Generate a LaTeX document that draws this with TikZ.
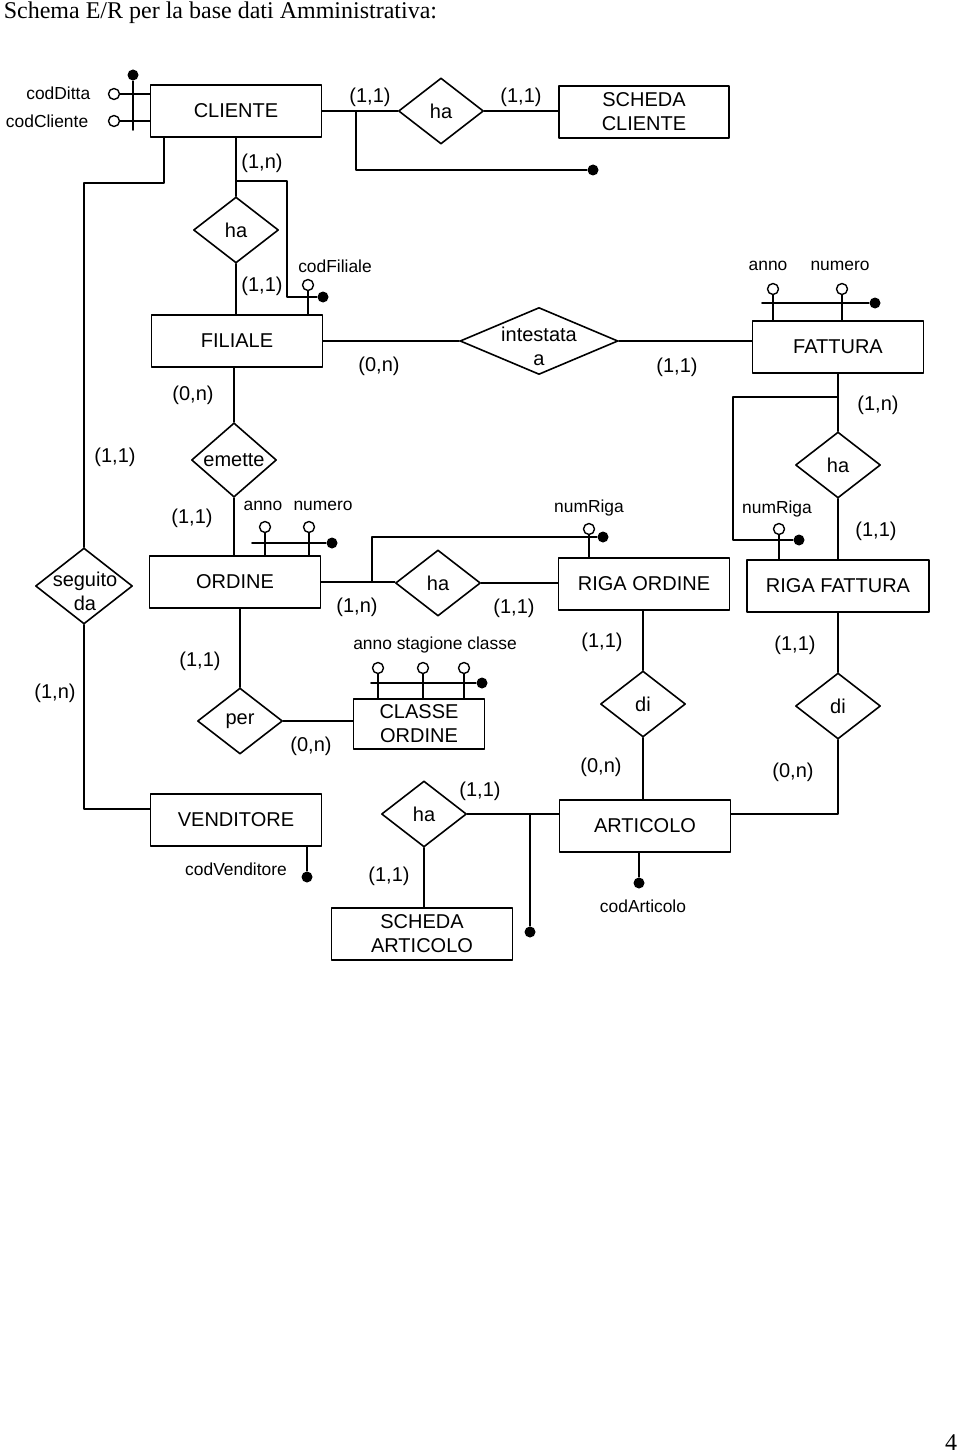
\documentclass[tikz,border=0pt]{standalone}
\usepackage{fontspec}
\setmainfont{Liberation Serif}
\setsansfont{Liberation Sans}
\usetikzlibrary{shapes.geometric,calc}
\tikzset{
  every picture/.style={line join=round, line cap=round, line width=0.8pt},
  entity/.style={draw, rectangle, minimum width=85.5pt, minimum height=26pt, inner sep=1pt, align=center, font=\sffamily\fontsize{10}{12}\selectfont},
  relation/.style={draw, diamond, minimum width=42.5pt, minimum height=33pt, inner sep=0pt, align=center, font=\sffamily\fontsize{10}{12}\selectfont},
  reltext/.style={inner sep=0pt, align=center, font=\sffamily\fontsize{10}{12}\selectfont},
  attrib/.style={draw, circle, fill=white, minimum size=5.5pt, inner sep=0pt, line width=0.7pt},
  keydot/.style={circle, fill=black, minimum size=5.5pt, inner sep=0pt},
  card/.style={inner sep=0pt, font=\sffamily\fontsize{10}{11}\selectfont},
  attlabel/.style={inner sep=0pt, font=\sffamily\fontsize{8.7}{10}\selectfont},
}

\begin{document}
\begin{tikzpicture}[x=0.5pt,y=-0.5pt]
\useasboundingbox (0,0) rectangle (960,1455);
\node[anchor=base west,inner sep=0pt,font=\fontsize{12}{14}\selectfont] (titolo) at (3,18.5) {Schema E/R per la base dati Amministrativa:};
\node[inner sep=0pt,font=\fontsize{12}{14}\selectfont] (pagina) at (951,1443) {4};

\node[entity] (cliente) at (236,111) {CLIENTE};
\node[relation] (haScheda) at (441,111) {ha};
\node[entity, minimum width=85pt] (schedaCli) at (644,112) {SCHEDA\\CLIENTE};
\node[relation] (haFil) at (236,230) {ha};
\node[entity] (filiale) at (237,341) {FILIALE};
\node[relation, minimum width=79pt, minimum height=33.5pt] (intestata) at (539,341) {};
\node[reltext] (intestataT) at (539,346) {intestata\\a};
\node[entity] (fattura) at (838,347) {FATTURA};
\node[relation] (emette) at (234,460) {emette};
\node[relation, minimum width=48.5pt, minimum height=38pt] (seguito) at (84,586) {};
\node[reltext] (seguitoT) at (85,591) {seguito\\da};
\node[entity] (ordine) at (235,582) {ORDINE};
\node[relation] (haRiga) at (438,583) {ha};
\node[entity] (rigaOrd) at (644,584) {RIGA ORDINE};
\node[relation] (haFatt) at (838,465) {ha};
\node[entity, minimum width=91pt] (rigaFatt) at (838,586) {RIGA FATTURA};
\node[relation] (per) at (240,721) {per};
\node[entity, minimum width=65.5pt, minimum height=25pt] (classe) at (419,724) {CLASSE\\ORDINE};
\node[relation] (diOrd) at (643,704) {di};
\node[relation] (diFatt) at (838,706) {di};
\node[entity] (venditore) at (236,820) {VENDITORE};
\node[entity] (articolo) at (645,826) {ARTICOLO};
\node[relation] (haArt) at (424,814) {ha};
\node[entity, minimum width=90.5pt] (schedaArt) at (422,934) {SCHEDA\\ARTICOLO};

\node[attrib] (codDitta) at (114,94) {};
\node[attrib] (codCliente) at (114,121) {};
\node[keydot] (keyCli) at (133,75) {};
\node[attrib] (codFiliale) at (308,285) {};
\node[keydot] (keyFil) at (323,297) {};
\node[keydot] (keyScheda) at (593,170) {};
\node[attrib] (annoF) at (773,289) {};
\node[attrib] (numeroF) at (842,289) {};
\node[keydot] (keyFatt) at (875,303) {};
\node[attrib] (annoO) at (265,527) {};
\node[attrib] (numeroO) at (309,527) {};
\node[keydot] (keyOrd) at (332,543) {};
\node[attrib] (numRigaO) at (589,529) {};
\node[keydot] (keyRigaO) at (603,537) {};
\node[attrib] (numRigaF) at (779,529) {};
\node[keydot] (keyRigaF) at (799,540) {};
\node[attrib] (annoC) at (378,668) {};
\node[attrib] (stagioneC) at (423,668) {};
\node[attrib] (classeC) at (464,668) {};
\node[keydot] (keyClasse) at (482,683) {};
\node[keydot] (keyVend) at (307,877) {};
\node[keydot] (keyArt) at (639,883) {};
\node[keydot] (keyScArt) at (530,932) {};

\node[attlabel, anchor=east] (lblDitta) at (91,93) {codDitta};
\node[attlabel, anchor=east] (lblCliente) at (89,121) {codCliente};
\node[attlabel] (lblFiliale) at (335,266) {codFiliale};
\node[attlabel] (lblAnnoF) at (768,266) {anno};
\node[attlabel] (lblNumeroF) at (840,266) {numero};
\node[attlabel] (lblAnnoO) at (263,506) {anno};
\node[attlabel] (lblNumeroO) at (323,506) {numero};
\node[attlabel] (lblRigaO) at (589,508) {numRiga};
\node[attlabel] (lblRigaF) at (777,509) {numRiga};
\node[attlabel] (lblClasse) at (435,645) {anno stagione classe};
\node[attlabel] (lblVend) at (236,869) {codVenditore};
\node[attlabel] (lblArt) at (643,906) {codArticolo};

\foreach \px/\py/\txt [count=\i] in {370/97/{(1,1)}, 521/97/{(1,1)}, 262/163/{(1,n)}, 262/286/{(1,1)},
  379/366/{(0,n)}, 677/367/{(1,1)}, 193/395/{(0,n)}, 115/457/{(1,1)}, 878/405/{(1,n)},
  192/518/{(1,1)}, 876/531/{(1,1)}, 357/607/{(1,n)}, 514/608/{(1,1)}, 55/693/{(1,n)},
  200/661/{(1,1)}, 602/642/{(1,1)}, 795/645/{(1,1)}, 311/746/{(0,n)}, 601/767/{(0,n)},
  793/772/{(0,n)}, 480/791/{(1,1)}, 389/876/{(1,1)}}
  \node[card] (card\i) at (\px,\py) {\txt};

\draw (codDitta) -- (codDitta -| cliente.west);
\draw (codCliente) -- (codCliente -| cliente.west);
\draw (keyCli) -- ++(0,55);
\draw (cliente) -- (haScheda);
\draw (haScheda.east) -- (haScheda.east -| schedaCli.west);
\draw (356,111) |- (keyScheda);
\draw (cliente.south -| haFil) -- (haFil.north);
\draw (236,181) -- ++(51,0) |- (keyFil);
\draw (codFiliale) -- (codFiliale |- filiale.north);
\draw (haFil.south) -- (haFil.south |- filiale.north);
\draw (filiale) -- (intestata);
\draw (intestata.east) -- (intestata.east -| fattura.west);
\draw (annoF) -- (annoF |- fattura.north);
\draw (numeroF) -- (numeroF |- fattura.north);
\draw (keyFatt) -- ++(-113,0);
\draw (filiale.south -| emette) -- (emette.north);
\draw (emette.south) -- (emette.south |- ordine.north);
\draw (annoO) -- (annoO |- ordine.north);
\draw (numeroO) -- (numeroO |- ordine.north);
\draw (keyOrd) -- ++(-80,0);
\draw ([xshift=7pt]cliente.south west) -- ++(0,45) -| (seguito.north);
\draw (seguito.south) |- ([yshift=5.5pt]venditore.west);
\draw (keyVend) -- (keyVend |- venditore.south);
\draw (ordine.east) -- (ordine.east -| haRiga.west);
\draw (372,582) |- (keyRigaO);
\draw (numRigaO) -- (numRigaO |- rigaOrd.north);
\draw (haRiga.east) -- (haRiga.east -| rigaOrd.west);
\draw (fattura.south) -- (haFatt.north);
\draw (838,397) -- ++(-105,0) |- (keyRigaF);
\draw (numRigaF) -- (numRigaF |- rigaFatt.north);
\draw (haFatt.south) -- (rigaFatt.north);
\draw (rigaOrd.south -| diOrd) -- (diOrd.north);
\draw (diOrd.south) -- (diOrd.south |- articolo.north);
\draw (rigaFatt.south) -- (diFatt.north);
\draw (diFatt.south) |- ([yshift=6pt]articolo.east);
\draw (per.north |- ordine.south) -- (per.north);
\draw (per.east) -- (per.east -| classe.west);
\draw (annoC) -- (annoC |- classe.north);
\draw (stagioneC) -- (stagioneC |- classe.north);
\draw (classeC) -- (classeC |- classe.north);
\draw (keyClasse) -- ++(-111,0);
\draw (haArt.east) -- (haArt.east -| articolo.west);
\draw (keyScArt) -- (keyScArt |- haArt.east);
\draw (haArt.south) -- (haArt.south |- schedaArt.north);
\draw (keyArt) -- (keyArt |- articolo.south);
\end{tikzpicture}
\end{document}
